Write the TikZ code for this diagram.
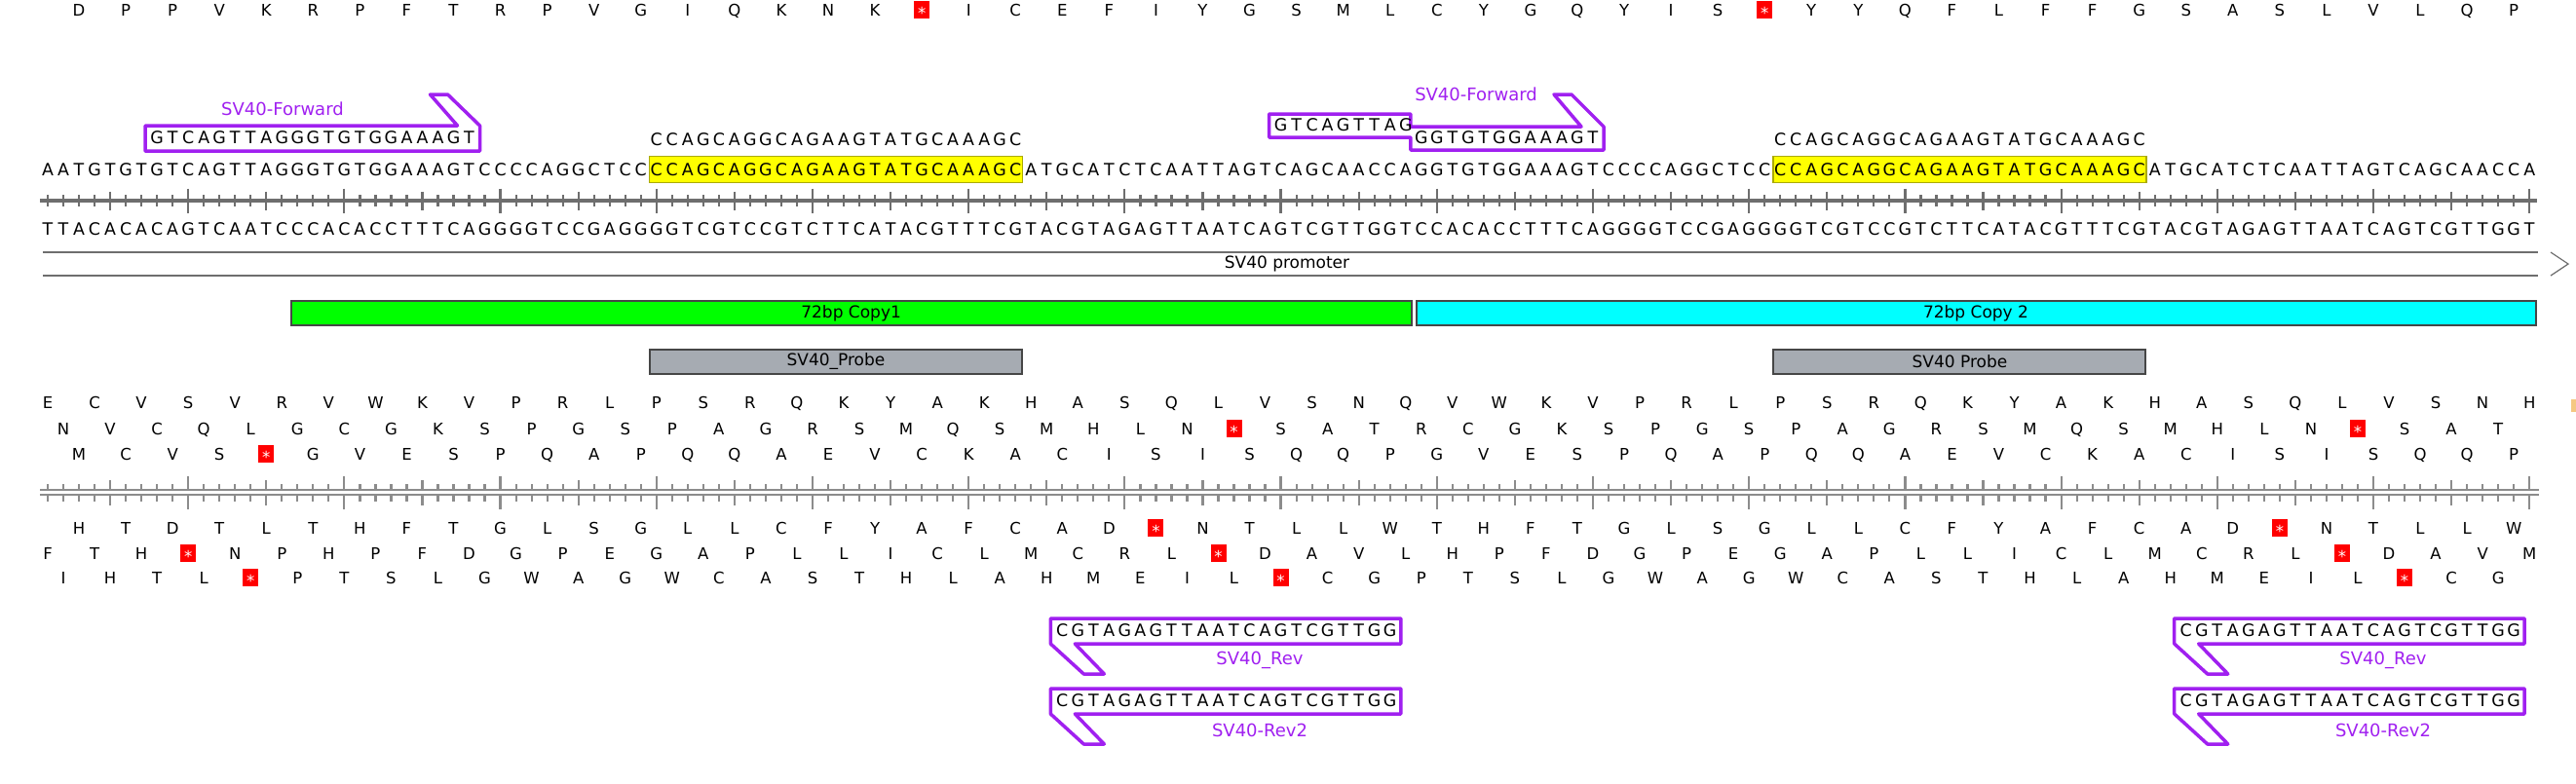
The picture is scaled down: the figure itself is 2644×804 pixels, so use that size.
\documentclass[tikz,border=0pt]{standalone}
\usepackage{fontspec}
\setmainfont{DejaVu Sans}

\definecolor{primer}{RGB}{160,32,240}
\definecolor{rulergray}{RGB}{110,110,110}
\definecolor{framegray}{RGB}{140,140,140}
\definecolor{featline}{RGB}{70,70,70}
\definecolor{probegray}{RGB}{166,171,178}
\definecolor{hilite}{RGB}{255,255,0}
\definecolor{hiliteline}{RGB}{170,170,0}
\definecolor{copyone}{RGB}{0,255,0}
\definecolor{copytwo}{RGB}{0,255,255}
\definecolor{stopred}{RGB}{255,0,0}
\definecolor{markorange}{RGB}{245,200,130}

\newcommand\seqfont{\fontsize{17.4}{20}\selectfont}
\newcommand\aafont{\fontsize{16.5}{20}\selectfont}
\newcommand\labfont{\fontsize{18}{22}\selectfont}
\newcommand\featfont{\fontsize{17}{20}\selectfont}
\newcommand\stopmark{\raisebox{-0.55em}{*}}

% x position of base #1
\newcommand\bx[1]{(49+(#1-1)*16.02)}

\makeatletter
\newcount\seqpos
% #1 first base, #2 step, #3 y, #4 style, #5 letters
\newcommand\seqrow[5]{%
  \seqpos=#1\relax
  \@tfor\seqch:=#5\do{%
    \if*\seqch
      \node[stopbox] at ({\bx{\the\seqpos}},#3) {\stopmark};%
    \else
      \node[#4] at ({\bx{\the\seqpos}},#3) {\seqch};%
    \fi
    \advance\seqpos by #2\relax}}
\makeatother

\begin{document}
\begin{tikzpicture}[x=1pt, y=-1pt,
  nt/.style={font=\seqfont, inner sep=0, text height=12.7, text depth=0},
  aa/.style={font=\aafont, inner sep=0, text height=12, text depth=0},
  stopbox/.style={fill=stopred, text=white, font=\aafont, minimum width=16,
    minimum height=18, inner sep=0, text height=0, text depth=0},
  primerline/.style={draw=primer, line width=3.5, line join=round},
  primerlabel/.style={text=primer, font=\labfont, inner sep=0},
  featbox/.style={draw=featline, line width=2, font=\featfont,
    minimum height=25, inner sep=0},
  hibox/.style={fill=hilite, draw=hiliteline, line width=1.5,
    minimum height=27, inner sep=0},
  tick/.style={line width=2.2}
]
\useasboundingbox (0,0) rectangle (2644,804);

% frame on top
\seqrow{3}{3}{10}{aa}{DPPVKRPFTRPVGIQKNK*ICEFIYGSMLCYGQYIS*YYQFLFFGSASLVLQP}

% primers above the sequence
\draw[primerline] (149,129) -- (469.5,129) -- (441.5,97) -- (459.5,97)
  -- (492.5,129) -- (492.5,155) -- (149,155) -- cycle;
\node[primerlabel] (fwdA) at (290,112) {SV40-Forward};
\seqrow{8}{1}{141}{nt}{GTCAGTTAGGGTGTGGAAAGT}

\draw[primerline] (1302.6,117) -- (1447.8,117) -- (1447.8,130) -- (1623,130)
  -- (1595,97) -- (1613,97) -- (1646,130) -- (1646,154) -- (1447.8,154)
  -- (1447.8,141) -- (1302.6,141) -- cycle;
\node[primerlabel] (fwdB) at (1515,97) {SV40-Forward};
\seqrow{80}{1}{128}{nt}{GTCAGTTAG}
\seqrow{89}{1}{141}{nt}{GGTGTGGAAAGT}

\seqrow{40}{1}{143}{nt}{CCAGCAGGCAGAAGTATGCAAAGC}
\seqrow{112}{1}{143}{nt}{CCAGCAGGCAGAAGTATGCAAAGC}

% sequence, both strands
\node[hibox, minimum width=383] (hiA) at (858,174) {};
\node[hibox, minimum width=383] (hiB) at (2011.4,174) {};
\seqrow{1}{1}{174}{nt}{AATGTGTGTCAGTTAGGGTGTGGAAAGTCCCCAGGCTCCCCAGCAGGCAGAAGTATGCAAAGCATGCATCTCAATTAGTCAGCAACCAGGTGTGGAAAGTCCCCAGGCTCCCCAGCAGGCAGAAGTATGCAAAGCATGCATCTCAATTAGTCAGCAACCA}
\draw[rulergray, line width=4] (41,206) -- (2604,206);
\foreach \i in {1,...,160}{
  \pgfmathsetmacro\tl{ifthenelse(mod(\i,10)==0,12.5,ifthenelse(mod(\i,5)==0,9.5,6))}
  \draw[rulergray, tick] ({\bx{\i}},206-\tl) -- ({\bx{\i}},206+\tl);
}
\seqrow{1}{1}{235}{nt}{TTACACACAGTCAATCCCACACCTTTCAGGGGTCCGAGGGGTCGTCCGTCTTCATACGTTTCGTACGTAGAGTTAATCAGTCGTTGGTCCACACCTTTCAGGGGTCCGAGGGGTCGTCCGTCTTCATACGTTTCGTACGTAGAGTTAATCAGTCGTTGGT}

% features
\draw[rulergray, line width=2] (44,259) -- (2605,259);
\draw[rulergray, line width=2] (44,283) -- (2605,283);
\draw[rulergray, line width=1.2] (2618,259) -- (2636,271) -- (2618,283);
\node[font=\featfont, inner sep=0] (promo) at (1321,271) {SV40 promoter};

\node[featbox, fill=copyone, minimum width=1150] (copyA) at (873.6,321.5) {72bp Copy1};
\node[featbox, fill=copytwo, minimum width=1149] (copyB) at (2028,321.5) {72bp Copy 2};
\node[featbox, fill=probegray, minimum width=382] (probeA) at (858,371.5) {SV40\_Probe};
\node[featbox, fill=probegray, minimum width=382] (probeB) at (2011.4,371.5) {SV40 Probe};

% six frames
\seqrow{1}{3}{413}{aa}{ECVSVRVWKVPRLPSRQKYAKHASQLVSNQVWKVPRLPSRQKYAKHASQLVSNH}
\seqrow{2}{3}{440}{aa}{NVCQLGCGKSPGSPAGRSMQSMHLN*SATRCGKSPGSPAGRSMQSMHLN*SAT}
\seqrow{3}{3}{466}{aa}{MCVS*GVESPQAPQQAEVCKACISISQQPGVESPQAPQQAEVCKACISISQQP}
\fill[markorange] (2639,410) rectangle (2644,423);

\draw[framegray, line width=2] (41,502.5) -- (2606,502.5);
\draw[framegray, line width=2] (41,507.5) -- (2606,507.5);
\foreach \i in {1,...,160}{
  \pgfmathsetmacro\tl{ifthenelse(mod(\i,10)==0,14,ifthenelse(mod(\i,5)==0,10,6))}
  \draw[framegray, tick] ({\bx{\i}},502.5) -- ({\bx{\i}},502.5-\tl);
  \draw[framegray, tick] ({\bx{\i}},507.5) -- ({\bx{\i}},507.5+\tl+1.5);
}

\seqrow{3}{3}{542}{aa}{HTDTLTHFTGLSGLLCFYAFCAD*NTLLWTHFTGLSGLLCFYAFCAD*NTLLW}
\seqrow{1}{3}{568}{aa}{FTH*NPHPFDGPEGAPLLICLMCRL*DAVLHPFDGPEGAPLLICLMCRL*DAVM}
\seqrow{2}{3}{593}{aa}{IHTL*PTSLGWAGWCASTHLAHMEIL*CGPTSLGWAGWCASTHLAHMEIL*CG}

% reverse primers
\draw[primerline] (1078.3,635) -- (1437.8,635) -- (1437.8,661) -- (1103.3,661)
  -- (1133.3,692) -- (1112.3,692) -- (1078.3,661) -- cycle;
\seqrow{66}{1}{647}{nt}{CGTAGAGTTAATCAGTCGTTGG}
\node[primerlabel] (revA) at (1293,678) {SV40\_Rev};
\draw[primerline] (1078.3,707) -- (1437.8,707) -- (1437.8,733) -- (1103.3,733)
  -- (1133.3,764) -- (1112.3,764) -- (1078.3,733) -- cycle;
\seqrow{66}{1}{719}{nt}{CGTAGAGTTAATCAGTCGTTGG}
\node[primerlabel] (revB) at (1293,750) {SV40-Rev2};

\draw[primerline] (2231.7,635) -- (2591.2,635) -- (2591.2,661) -- (2256.7,661)
  -- (2286.7,692) -- (2265.7,692) -- (2231.7,661) -- cycle;
\seqrow{138}{1}{647}{nt}{CGTAGAGTTAATCAGTCGTTGG}
\node[primerlabel] (revC) at (2446,678) {SV40\_Rev};
\draw[primerline] (2231.7,707) -- (2591.2,707) -- (2591.2,733) -- (2256.7,733)
  -- (2286.7,764) -- (2265.7,764) -- (2231.7,733) -- cycle;
\seqrow{138}{1}{719}{nt}{CGTAGAGTTAATCAGTCGTTGG}
\node[primerlabel] (revD) at (2446,750) {SV40-Rev2};
\end{tikzpicture}
\end{document}
